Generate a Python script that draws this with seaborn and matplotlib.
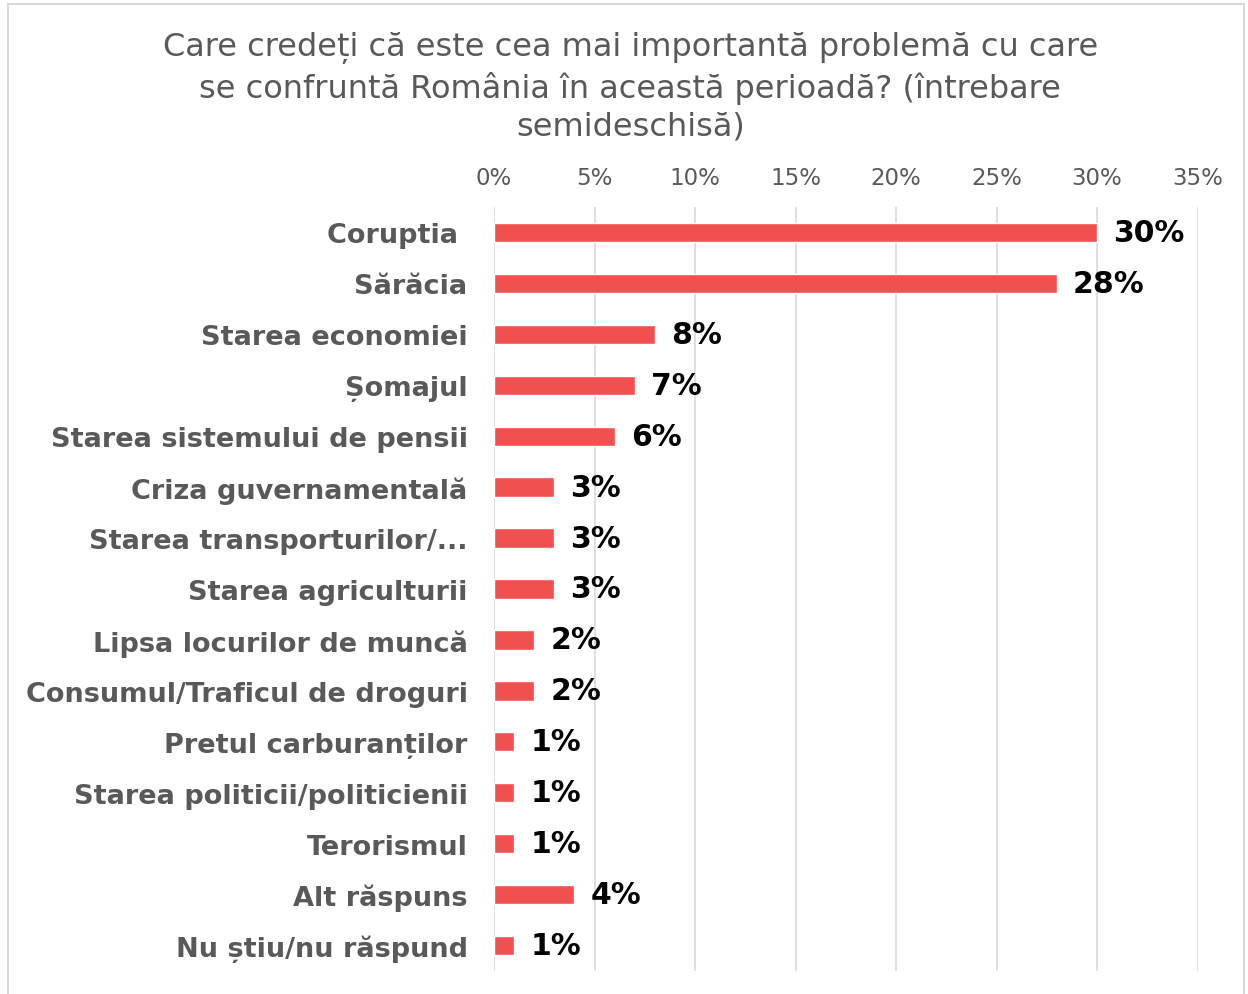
import matplotlib
matplotlib.use("Agg")
import matplotlib.pyplot as plt
import seaborn as sns
import pandas as pd
from matplotlib.patches import Rectangle
from matplotlib.ticker import FuncFormatter

categories = [
    "Coruptia ", "Sărăcia", "Starea economiei", "Șomajul",
    "Starea sistemului de pensii", "Criza guvernamentală",
    "Starea transporturilor/...", "Starea agriculturii",
    "Lipsa locurilor de muncă", "Consumul/Traficul de droguri",
    "Pretul carburanților", "Starea politicii/politicienii",
    "Terorismul", "Alt răspuns", "Nu știu/nu răspund",
]
values = [30, 28, 8, 7, 6, 3, 3, 3, 2, 2, 1, 1, 1, 4, 1]
title = ("Care credeți că este cea mai importantă problemă cu care\n"
         "se confruntă România în această perioadă? (întrebare\n"
         "semideschisă)")

df = pd.DataFrame({"cat": categories, "val": values})

sns.set_style("white")
plt.rcParams['font.family'] = ['DejaVu Sans']

fig = plt.figure(figsize=(12.48, 9.95), dpi=100)
ax = fig.add_axes([494 / 1248, 1 - 972 / 995, (1197.5 - 494) / 1248, (972 - 208) / 995])

sns.barplot(data=df, x="val", y="cat", color="#F05050", width=0.38,
            saturation=1, ax=ax, orient="h")

ax.set_xlim(0, 35)
ax.set_xticks(range(0, 36, 5))
ax.xaxis.set_major_formatter(FuncFormatter(lambda v, p: f"{int(v)}%"))
ax.xaxis.tick_top()
ax.tick_params(axis="x", length=0, pad=13, labelsize=16.5, labelcolor="#595959")
ax.tick_params(axis="y", length=0, pad=19, labelsize=19.5, labelcolor="#595959")
for lbl in ax.get_yticklabels():
    lbl.set_fontweight("bold")
ax.grid(True, axis="x", color="#D9D9D9", linewidth=1.2)
ax.set_axisbelow(True)
for s in ax.spines.values():
    s.set_visible(False)
ax.set_xlabel("")
ax.set_ylabel("")

for i, v in enumerate(values):
    ax.text(v + 0.8, i, f"{v}%", va="center", ha="left",
            fontsize=21.5, fontweight="bold", color="black")

fig.text(0.505, 1 - 32 / 995, title, ha="center", va="top",
         fontsize=23, color="#595959", linespacing=1.3)

fig.patches.append(Rectangle((8 / 1248, -0.01), 1236 / 1248, 1 - 5 / 995 + 0.01,
                             transform=fig.transFigure, fill=False,
                             edgecolor="#D9D9D9", linewidth=1.5))

fig.savefig("out.png", dpi=100, facecolor="white")
